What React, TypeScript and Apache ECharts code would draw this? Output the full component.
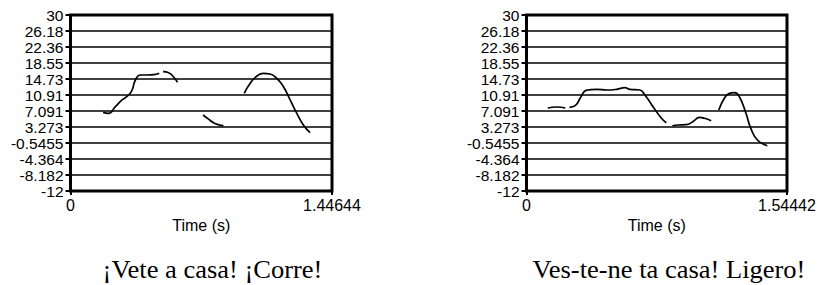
import { useEffect, useRef } from "react";
import * as echarts from "echarts";

// ---- data ----
const yTickLabels = ["-12", "-8.182", "-4.364", "-0.5455", "3.273", "7.091", "10.91", "14.73", "18.55", "22.36", "26.18", "30"];
const Y_MIN = -12;
const Y_MAX = 30;
const leftXMax = 1.44644;
const rightXMax = 1.54442;
const leftXLabels = ["0", "1.44644"];
const rightXLabels = ["0", "1.54442"];
const xAxisName = "Time (s)";
const leftCaption = "¡Vete a casa! ¡Corre!";
const rightCaption = "Ves-te-ne ta casa! Ligero!";

const leftSeg1 = [[0.180, 6.77], [0.211, 6.53], [0.248, 8.12], [0.285, 9.72], [0.322, 10.91], [0.341, 12.10], [0.359, 14.49], [0.386, 15.68], [0.423, 15.68], [0.460, 15.75], [0.491, 16.09]];
const leftSeg2 = [[0.512, 16.47], [0.543, 16.23], [0.570, 15.2], [0.592, 13.94]];
const leftSeg3 = [[0.733, 6.14], [0.762, 5.2], [0.791, 4.30], [0.819, 3.82], [0.846, 3.58]];
const leftSeg4 = [[0.961, 11.31], [0.994, 13.70], [1.031, 15.44], [1.067, 16.09], [1.104, 15.92], [1.141, 14.89], [1.178, 12.89], [1.215, 9.72], [1.252, 6.54], [1.288, 3.75], [1.325, 1.91]];

const rightSeg1 = [[0.126, 7.81], [0.181, 8.05], [0.230, 7.81]];
const rightSeg2 = [[0.255, 7.97], [0.289, 8.36], [0.318, 10.12], [0.348, 11.94], [0.367, 12.10], [0.417, 12.27], [0.476, 12.10], [0.535, 12.27], [0.584, 12.65], [0.613, 12.27], [0.672, 12.10], [0.702, 10.91], [0.750, 8.12], [0.800, 5.35], [0.829, 4.30]];
const rightSeg3 = [[0.865, 3.58], [0.898, 3.75], [0.947, 3.82], [0.986, 4.54], [1.026, 5.59], [1.055, 5.35], [1.095, 4.78]];
const rightSeg4 = [[1.140, 7.33], [1.173, 10.12], [1.203, 11.31], [1.232, 11.46], [1.262, 10.50], [1.301, 6.54], [1.330, 2.96], [1.369, 0.17], [1.428, -1.19]];

const leftSegments = [leftSeg1, leftSeg2, leftSeg3, leftSeg4];
const rightSegments = [rightSeg1, rightSeg2, rightSeg3, rightSeg4];

const FONT = "Liberation Sans, Arial, sans-serif";
const SERIF = "Liberation Serif, Times New Roman, serif";

export default function App() {
  const ref = useRef<HTMLDivElement>(null);

  useEffect(() => {
    if (!ref.current) return;
    const chart = echarts.init(ref.current, undefined, { renderer: "svg" });
    const span = Y_MAX - Y_MIN;
    const yInterval = span / (yTickLabels.length - 1);

    const makeX = (gridIndex: number, max: number, labels: string[]) => ({
      type: "value",
      gridIndex,
      min: 0,
      max,
      interval: max,
      name: xAxisName,
      nameLocation: "middle",
      nameGap: 26,
      nameTextStyle: { color: "#000", fontSize: 16, fontFamily: FONT },
      axisLine: { show: false },
      axisTick: { show: true, length: 4, lineStyle: { color: "#000", width: 2 } },
      axisLabel: {
        color: "#000",
        fontSize: 16,
        fontFamily: FONT,
        margin: 6,
        showMinLabel: true,
        showMaxLabel: true,
        formatter: (v: number) => (v === 0 ? labels[0] : labels[1]),
      },
      splitLine: { show: false },
    });

    const makeY = (gridIndex: number) => ({
      type: "value",
      gridIndex,
      min: 0,
      max: span,
      interval: yInterval,
      axisLine: { show: false },
      axisTick: { show: true, length: 5, lineStyle: { color: "#000", width: 2 } },
      axisLabel: {
        color: "#000",
        fontSize: 15.5,
        fontFamily: FONT,
        margin: 7,
        showMinLabel: true,
        showMaxLabel: true,
        formatter: (v: number) => yTickLabels[Math.round(v / yInterval)] ?? "",
      },
      splitLine: { show: true, lineStyle: { color: "#000", width: 1.6 } },
    });

    const makeSeries = (segs: number[][][], idx: number) =>
      segs.map((seg) => ({
        type: "line",
        xAxisIndex: idx,
        yAxisIndex: idx,
        data: seg.map(([t, v]) => [t, v - Y_MIN]),
        smooth: 0.5,
        symbol: "none",
        lineStyle: { color: "#000", width: 1.7 },
        silent: true,
      }));

    chart.setOption({
      animation: false,
      backgroundColor: "#fff",
      grid: [
        { left: 70.5, top: 15, width: 261.5, height: 176, show: true, borderColor: "#000", borderWidth: 3, backgroundColor: "transparent" },
        { left: 526.5, top: 15, width: 260.5, height: 176, show: true, borderColor: "#000", borderWidth: 3, backgroundColor: "transparent" },
      ],
      xAxis: [makeX(0, leftXMax, leftXLabels), makeX(1, rightXMax, rightXLabels)],
      yAxis: [makeY(0), makeY(1)],
      series: [...makeSeries(leftSegments, 0), ...makeSeries(rightSegments, 1)],
      graphic: [
        {
          type: "text",
          x: 212.5,
          y: 269.5,
          scaleX: 1.06,
          style: { text: leftCaption, fill: "#000", font: `25px ${SERIF}`, align: "center", verticalAlign: "middle" },
        },
        {
          type: "text",
          x: 669,
          y: 269.5,
          scaleX: 1.06,
          style: { text: rightCaption, fill: "#000", font: `25px ${SERIF}`, align: "center", verticalAlign: "middle" },
        },
      ],
    });

    return () => chart.dispose();
  }, []);

  return <div ref={ref} style={{ position: "absolute", left: 0, top: 0, width: 819, height: 285 }} />;
}
